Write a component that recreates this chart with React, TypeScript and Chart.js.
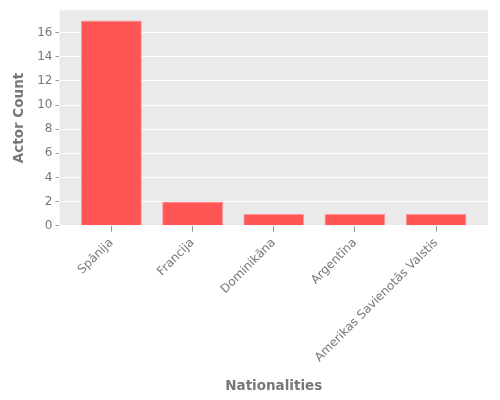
import React, { useEffect, useRef } from "react";
import { Chart, registerables } from "chart.js";

Chart.register(...registerables);

const categories = ["Spānija", "Francija", "Dominikāna", "Argentīna", "Amerikas Savienotās Valstis"];
const actorCounts = [17, 2, 1, 1, 1];
const yTicks = [0, 2, 4, 6, 8, 10, 12, 14, 16];

const bgPlugin = {
  id: "plotBg",
  beforeDraw(chart: any) {
    const { ctx, chartArea } = chart;
    if (!chartArea) return;
    ctx.save();
    ctx.fillStyle = "#EAEAEA";
    ctx.fillRect(chartArea.left, chartArea.top, chartArea.right - chartArea.left, chartArea.bottom - chartArea.top);
    ctx.restore();
  },
};

export default function App() {
  const ref = useRef<HTMLCanvasElement | null>(null);
  useEffect(() => {
    document.body.style.margin = "0";
    const font = "'DejaVu Sans', sans-serif";
    const chart = new Chart(ref.current as HTMLCanvasElement, {
      type: "bar",
      data: {
        datasets: [
          {
            data: actorCounts.map((v, i) => ({ x: i, y: v })),
            backgroundColor: "#FF5555",
            borderColor: "#FF9A9A",
            borderWidth: 1,
            barPercentage: 1,
            categoryPercentage: 0.75,
          },
        ],
      },
      options: {
        animation: false,
        responsive: false,
        maintainAspectRatio: false,
        layout: { padding: { top: 10, right: 12, left: 9, bottom: 3 } },
        plugins: { legend: { display: false }, tooltip: { enabled: false } },
        scales: {
          x: {
            type: "linear",
            offset: false,
            min: -0.64,
            max: 4.64,
            afterBuildTicks: (axis: any) => {
              axis.ticks = categories.map((_, i) => ({ value: i }));
            },
            ticks: {
              autoSkip: false,
              minRotation: 45,
              maxRotation: 45,
              color: "#777777",
              font: { family: font, size: 12 },
              callback: (v: any) => categories[Number(v)] ?? "",
              padding: 4,
            },
            grid: { offset: false, drawOnChartArea: false, drawTicks: true, tickColor: "#999999", tickLength: 6 },
            border: { display: false },
            title: {
              display: true,
              text: "Nationalities",
              color: "#777777",
              font: { family: font, size: 13.5, weight: "bold" },
              padding: { top: 10, bottom: 2 },
            },
          },
          y: {
            type: "linear",
            min: 0,
            max: 17.85,
            afterBuildTicks: (axis: any) => {
              axis.ticks = yTicks.map((v) => ({ value: v }));
            },
            ticks: {
              color: "#777777",
              font: { family: font, size: 12 },
              padding: 3,
            },
            grid: { color: "#FFFFFF", lineWidth: 1, tickColor: "#999999", tickLength: 4 },
            border: { display: false },
            title: {
              display: true,
              text: "Actor Count",
              color: "#777777",
              font: { family: font, size: 13.5, weight: "bold" },
              padding: { top: 2, bottom: 7 },
            },
          },
        },
      },
      plugins: [bgPlugin],
    } as any);
    return () => chart.destroy();
  }, []);
  return (
    <div style={{ width: 500, height: 400 }}>
      <canvas ref={ref} width={500} height={400} style={{ width: 500, height: 400, display: "block" }} />
    </div>
  );
}
